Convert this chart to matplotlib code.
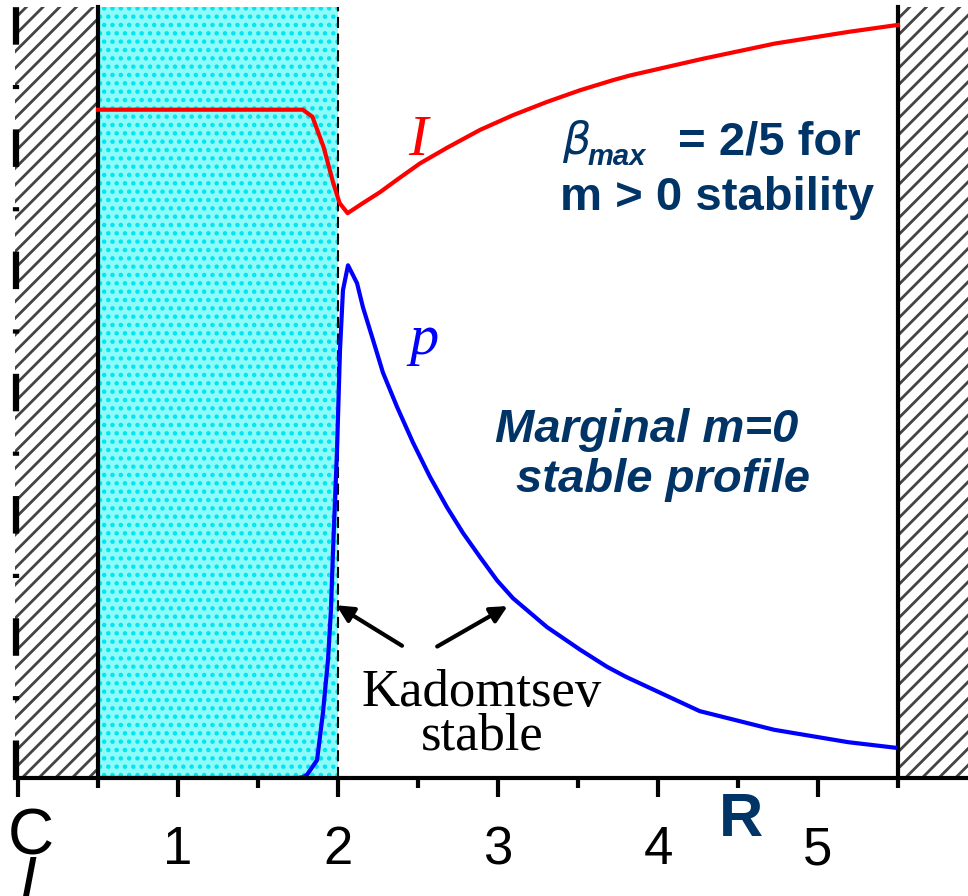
import numpy as np
import matplotlib
matplotlib.use("Agg")
import matplotlib.pyplot as plt

plt.rcParams['lines.scale_dashes'] = False
plt.rcParams['hatch.linewidth'] = 2.0

# radius R (x) and profile heights (y, fraction of plot height)
I_x = [0.5, 1.78, 1.84, 1.91, 1.97, 2.01, 2.06, 2.156, 2.2625, 2.369, 2.5125, 2.681, 2.8875,
       3.094, 3.306, 3.5125, 3.719, 3.825, 4.27, 4.73, 5.19, 5.5]
I_y = [0.859, 0.859, 0.850, 0.811, 0.765, 0.739, 0.726, 0.739, 0.753, 0.769, 0.790, 0.810, 0.833,
       0.852, 0.869, 0.884, 0.897, 0.903, 0.924, 0.944, 0.959, 0.968]

p_x = [0.5, 1.75, 1.78, 1.806, 1.869, 1.906, 1.9375, 1.956, 1.969, 1.994, 2.0125, 2.031, 2.0625,
       2.119, 2.156, 2.219, 2.281, 2.369, 2.469, 2.575, 2.681, 2.781, 2.8875, 2.994, 3.094,
       3.306, 3.5125, 3.681, 3.8, 4.26, 4.725, 5.19, 5.48]
p_y = [0.0, 0.0, 0.001, 0.004, 0.023, 0.084, 0.152, 0.216, 0.293, 0.422, 0.550, 0.627, 0.659,
       0.636, 0.605, 0.563, 0.521, 0.477, 0.431, 0.387, 0.348, 0.315, 0.284, 0.254, 0.231,
       0.194, 0.165, 0.143, 0.130, 0.086, 0.062, 0.046, 0.039]

major_ticks = [0, 1, 2, 3, 4, 5]
tick_labels = ['', '1', '2', '3', '4', '5']
minor_ticks = [0.5, 1.5, 2.5, 3.5, 4.5, 5.5]

wall_in = 0.5
wall_out = 5.5
kadomtsev_edge = 2.0
top = 0.991

navy = '#003366'
sans = 'Liberation Sans'
serif = 'Liberation Serif'

fig = plt.figure(figsize=(9.68, 8.96), dpi=100)
ax = fig.add_axes([0, 118 / 896, 1, 778 / 896])
ax.set_xlim(-18 / 160, 950 / 160)
ax.set_ylim(0, 1)

# walls
ax.fill_between([-0.02, wall_in], 0, top, facecolor='white', edgecolor='#444444', hatch='//', linewidth=0)
ax.fill_between([wall_out, 6.0], 0, top, facecolor='white', edgecolor='#444444', hatch='//', linewidth=0)
# Kadomtsev stable core region
ax.fill_between([wall_in, kadomtsev_edge], 0, top, facecolor='#8ffafa', edgecolor='#00e6f0', hatch='..', linewidth=0)

ax.plot([wall_in, wall_in], [0, top], color='black', lw=3)
ax.plot([wall_out, wall_out], [0, top], color='black', lw=3)
ax.plot([kadomtsev_edge, kadomtsev_edge], [0, top], color='black', lw=1.5, dashes=(8, 4))
ax.plot([-0.012, -0.012], [0, top], color='black', lw=4.5, dashes=(27, 29, 3, 29), solid_capstyle='butt')

ax.plot(I_x, I_y, color='red', lw=3, solid_joinstyle='round')
ax.plot(p_x, p_y, color='blue', lw=3, solid_joinstyle='round')

# axis
for s in ['top', 'left', 'right']:
    ax.spines[s].set_visible(False)
ax.spines['bottom'].set_linewidth(3)
ax.spines['bottom'].set_bounds(-0.02, 6.0)
ax.set_yticks([])
ax.set_xticks(major_ticks)
ax.set_xticklabels(tick_labels, fontsize=38, fontfamily=sans)
ax.set_xticks(minor_ticks, minor=True)
ax.tick_params(axis='x', which='major', direction='out', length=14, width=3, pad=20)
ax.tick_params(axis='x', which='minor', direction='out', length=7, width=3)

# centerline symbol and axis label
ax.text(0.08, -0.077, 'C', fontsize=46, fontfamily=sans, ha='center', va='center')
ax.text(0.12, -0.137, 'L', fontsize=46, fontfamily=sans, style='italic', ha='center', va='center')
ax.text(4.52, -0.055, 'R', fontsize=44, fontfamily=sans, fontweight='bold', color=navy, ha='center', va='center')

# curve labels
ax.text(2.5, 0.819, 'I', fontsize=42, fontfamily=serif, style='italic', color='red', ha='center', va='center')
ax.text(2.54, 0.563, 'p', fontsize=42, fontfamily=serif, style='italic', color='blue', ha='center', va='center')

# annotations
ax.text(3.4, 0.802, r'$\beta$', fontsize=32, color=navy, ha='left', va='baseline')
ax.text(3.56, 0.788, 'max', fontsize=21, fontfamily=sans, fontweight='bold', style='italic', color=navy, ha='left', va='baseline')
ax.text(4.125, 0.802, '= 2/5 for', fontsize=34, fontfamily=sans, fontweight='bold', color=navy, ha='left', va='baseline')
ax.text(3.39, 0.730, 'm > 0 stability', fontsize=34, fontfamily=sans, fontweight='bold', color=navy, ha='left', va='baseline')

ax.text(3.93, 0.432, 'Marginal m=0', fontsize=34, fontfamily=sans, fontweight='bold', style='italic', color=navy, ha='center', va='baseline')
ax.text(4.03, 0.368, 'stable profile', fontsize=34, fontfamily=sans, fontweight='bold', style='italic', color=navy, ha='center', va='baseline')

ax.text(2.9, 0.092, 'Kadomtsev', fontsize=38, fontfamily=serif, color='black', ha='center', va='baseline')
ax.text(2.9, 0.036, 'stable', fontsize=38, fontfamily=serif, color='black', ha='center', va='baseline')

arrow = dict(arrowstyle='-|>,head_length=1.0,head_width=0.5', color='black', lw=3, shrinkA=0, shrinkB=0)
ax.annotate('', xy=(1.99, 0.222), xytext=(2.4, 0.170), arrowprops=arrow)
ax.annotate('', xy=(3.06, 0.221), xytext=(2.62, 0.169), arrowprops=arrow)

fig.savefig('out.png', dpi=100)
